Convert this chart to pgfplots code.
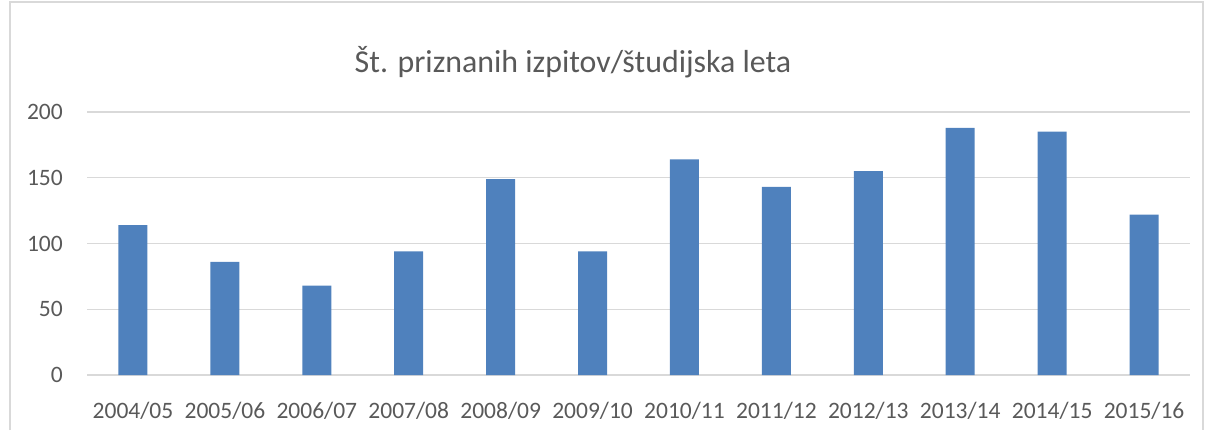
\documentclass[border=0pt]{standalone}
\usepackage{pgfplots}
\pgfplotsset{compat=1.18}
\usepackage{fontspec}
\setmainfont{Carlito}
\definecolor{barblue}{HTML}{4F81BD}
\definecolor{gridgray}{HTML}{D9D9D9}
\definecolor{textgray}{HTML}{595959}
\begin{document}
\begin{tikzpicture}[x=1bp,y=1bp]
\path[use as bounding box] (0,0) rectangle (1209,430);
\draw[gridgray, line width=1.5bp] (10,0) -- (10,428) -- (1203,428) -- (1203,0);
\node[anchor=base, text=textgray, inner sep=0pt, font=\fontsize{32}{38}\selectfont] at (573,358) {Št. priznanih izpitov/študijska leta};
\begin{axis}[
  at={(87bp,55bp)}, anchor=south west,
  scale only axis, width=1103bp, height=263bp,
  xmin=-0.5, xmax=11.5, ymin=0, ymax=200,
  ytick={0,50,100,150,200},
  xtick={0,1,2,3,4,5,6,7,8,9,10,11},
  xticklabels={2004/05,2005/06,2006/07,2007/08,2008/09,2009/10,2010/11,2011/12,2012/13,2013/14,2014/15,2015/16},
  axis line style={draw=none},
  tick style={draw=none},
  ymajorgrids,
  grid style={gridgray, line width=1.5bp},
  /pgf/number format/assume math mode=true,
  ticklabel style={text=textgray, font=\fontsize{23.6}{28}\selectfont, inner sep=0pt},
  yticklabel style={anchor=east, xshift=-24bp},
  xticklabel style={anchor=north, yshift=-23bp},
  ybar, bar width=29bp,
  clip=false,
]
\addplot[fill=barblue, draw=none] coordinates {
(0,114) (1,86) (2,68) (3,94) (4,149) (5,94) (6,164) (7,143) (8,155) (9,188) (10,185) (11,122)
};
\end{axis}
\end{tikzpicture}
\end{document}
